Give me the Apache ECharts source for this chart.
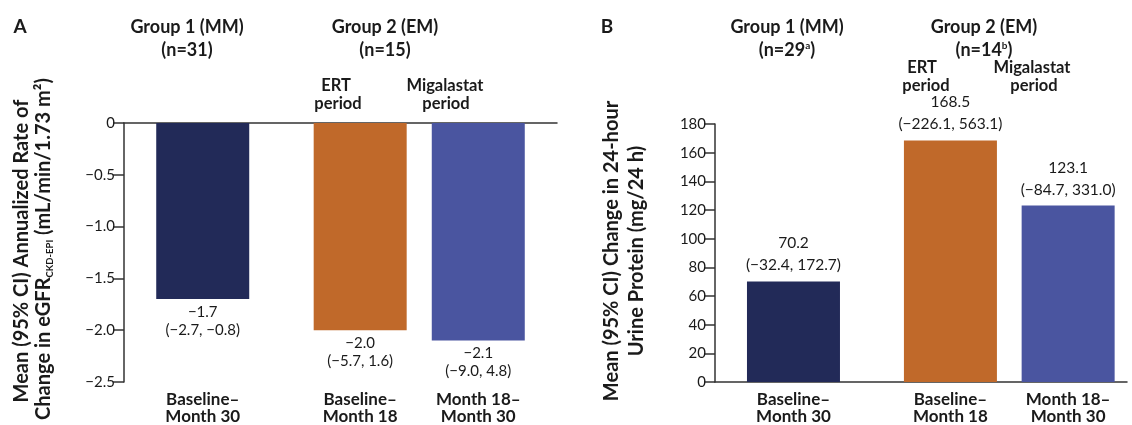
<!DOCTYPE html>
<html>
<head>
<meta charset="utf-8">
<script src="https://cdn.jsdelivr.net/npm/echarts@6/dist/echarts.min.js"></script>
<style>
html,body{margin:0;padding:0;background:#fff;}
#chart{width:1132px;height:425px;}
</style>
</head>
<body>
<div id="chart"></div>
<script>
// ---------- data ----------
const periods = ['Baseline–\nMonth 30', 'Baseline–\nMonth 18', 'Month 18–\nMonth 30'];
const egfrMean  = [-1.7, -2.0, -2.1];
const egfrLower = [-2.7, -5.7, -9.0];
const egfrUpper = [-0.8, 1.6, 4.8];
const proteinMean  = [70.2, 168.5, 123.1];
const proteinLower = [-32.4, -226.1, -84.7];
const proteinUpper = [172.7, 563.1, 331.0];
const egfrTicks = {min: -2.5, max: 0, step: 0.5};
const proteinTicks = {min: 0, max: 180, step: 20};

// ---------- styles / layout ----------
const barColors = ['#222a58', '#c0692a', '#4a55a0'];
const FONT = 'Lato, "Open Sans", sans-serif';
const TXT = '#1a1a1a';
const AX = '#333333';
const SLOTS_A = {count: 23, at: [4, 12, 18]};
const SLOTS_B = {count: 22, at: [4, 12, 18]};

const fmt = v => (v < 0 ? '−' : '') + Math.abs(v).toFixed(1);

function slotCats(s) { return Array.from({length: s.count}, (_, i) => 's' + i); }
function slotLabel(s, idx) { const k = s.at.indexOf(idx); return k >= 0 ? periods[k] : ''; }
function slotData(s, means, lo, hi) {
  const arr = new Array(s.count).fill(null);
  s.at.forEach((p, i) => {
    arr[p] = {value: means[i], itemStyle: {color: barColors[i]},
              ciText: fmt(means[i]) + '\n(' + fmt(lo[i]) + ', ' + fmt(hi[i]) + ')'};
  });
  return arr;
}

const dataA = slotData(SLOTS_A, egfrMean, egfrLower, egfrUpper);
const dataB = slotData(SLOTS_B, proteinMean, proteinLower, proteinUpper);

const chart = echarts.init(document.getElementById('chart'), null, {renderer: 'canvas'});

const yLabelStyle = {fontFamily: FONT, fontSize: 15, color: TXT, margin: 9};
const xLabelStyle = {fontFamily: FONT, fontSize: 17, fontWeight: 'bold', color: TXT, lineHeight: 17, interval: 0, margin: 9};

function txt(x, y, text, size, extra) {
  return {type: 'text', x: x, y: y, silent: true,
    style: Object.assign({text: text, fill: TXT, fontFamily: FONT, fontSize: size, fontWeight: 'bold',
      align: 'center', verticalAlign: 'middle'}, extra || {})};
}
const supRich = {b: {fontFamily: FONT, fontSize: 18, fontWeight: 'bold', fill: TXT},
                 s: {fontFamily: FONT, fontSize: 10, fontWeight: 'bold', fill: TXT, verticalAlign: 'top', padding: [0, 0, 8, 0]}};

const option = {
  animation: false,
  backgroundColor: '#ffffff',
  grid: [
    {left: 124, top: 123, width: 433, height: 260},
    {left: 715, top: 124, width: 412, height: 260}
  ],
  xAxis: [
    {gridIndex: 0, type: 'category', boundaryGap: false, position: 'top', data: slotCats(SLOTS_A),
     axisLine: {show: true, onZero: false, lineStyle: {color: AX, width: 1.5}}, axisTick: {show: false}, axisLabel: {show: false}},
    {gridIndex: 0, type: 'category', boundaryGap: false, position: 'bottom', data: slotCats(SLOTS_A),
     axisLine: {show: false}, axisTick: {show: false},
     axisLabel: Object.assign({formatter: (v, i) => slotLabel(SLOTS_A, i)}, xLabelStyle)},
    {gridIndex: 1, type: 'category', boundaryGap: false, position: 'bottom', data: slotCats(SLOTS_B),
     axisLine: {show: true, lineStyle: {color: AX, width: 1.5}}, axisTick: {show: false},
     axisLabel: Object.assign({formatter: (v, i) => slotLabel(SLOTS_B, i)}, xLabelStyle)}
  ],
  yAxis: [
    {gridIndex: 0, type: 'value', min: egfrTicks.min, max: egfrTicks.max, interval: egfrTicks.step,
     axisLine: {show: true, lineStyle: {color: AX, width: 1.5}},
     axisTick: {show: true, length: 11, lineStyle: {color: AX, width: 1.5}},
     splitLine: {show: false},
     axisLabel: Object.assign({formatter: v => v === 0 ? '0' : fmt(v)}, yLabelStyle)},
    {gridIndex: 1, type: 'value', min: proteinTicks.min, max: proteinTicks.max, interval: proteinTicks.step,
     axisLine: {show: true, lineStyle: {color: AX, width: 1.5}},
     axisTick: {show: true, length: 11, lineStyle: {color: AX, width: 1.5}},
     splitLine: {show: false},
     axisLabel: Object.assign({formatter: v => String(v)}, yLabelStyle)}
  ],
  series: [
    {type: 'bar', xAxisIndex: 0, yAxisIndex: 0, barWidth: 93, data: dataA,
     label: {show: true, position: 'bottom', distance: 4, fontFamily: FONT, fontSize: 15, lineHeight: 18, color: TXT,
             formatter: p => p.data.ciText}},
    {type: 'bar', xAxisIndex: 2, yAxisIndex: 1, barWidth: 93, data: dataB,
     label: {show: true, position: 'top', distance: 5, fontFamily: FONT, fontSize: 15.5, lineHeight: 22, color: TXT,
             formatter: p => p.data.ciText}}
  ],
  graphic: [
    txt(20, 27, 'A', 19),
    txt(607, 27, 'B', 19),
    txt(187, 27, 'Group 1 (MM)', 18),
    txt(187, 50, '(n=31)', 18),
    txt(385, 27, 'Group 2 (EM)', 18),
    txt(385, 50, '(n=15)', 18),
    txt(336, 86, 'ERT', 16.5),
    txt(338, 104, 'period', 16.5),
    txt(445, 86, 'Migalastat', 16.5),
    txt(446, 104, 'period', 16.5),
    txt(787, 27, 'Group 1 (MM)', 18),
    txt(787, 50, '{b|(n=29}{s|a}{b|)}', 18, {rich: supRich}),
    txt(984, 27, 'Group 2 (EM)', 18),
    txt(984, 50, '{b|(n=14}{s|b}{b|)}', 18, {rich: supRich}),
    txt(922, 68, 'ERT', 16.5),
    txt(926, 86, 'period', 16.5),
    txt(1032, 68, 'Migalastat', 16.5),
    txt(1034, 86, 'period', 16.5),
    Object.assign(txt(22, 251, 'Mean (95% CI) Annualized Rate of', 20), {rotation: Math.PI / 2}),
    Object.assign(txt(44, 249, '{b|Change in eGFR}{s|CKD-EPI}{b| (mL/min/1.73 m²)}', 20,
      {rich: {b: {fontFamily: FONT, fontSize: 20, fontWeight: 'bold', fill: TXT, lineHeight: 22},
              s: {fontFamily: FONT, fontSize: 9.5, fontWeight: 'bold', fill: TXT, verticalAlign: 'bottom'}}}), {rotation: Math.PI / 2}),
    Object.assign(txt(612, 251, 'Mean (95% CI) Change in 24-hour', 20), {rotation: Math.PI / 2}),
    Object.assign(txt(637, 251, 'Urine Protein (mg/24 h)', 20), {rotation: Math.PI / 2})
  ]
};
chart.setOption(option);
</script>
</body>
</html>
